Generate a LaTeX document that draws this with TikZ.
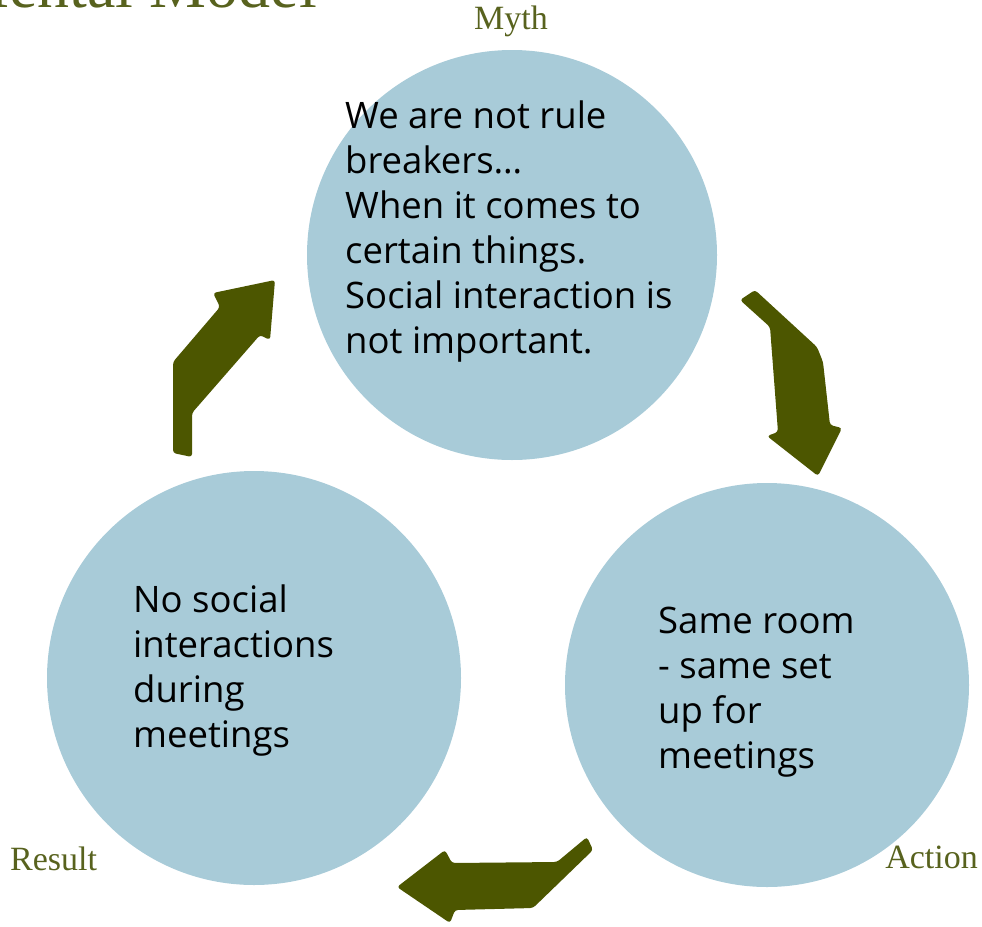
\documentclass[tikz,border=0pt]{standalone}
\usepackage{fontspec}
\setmainfont{Open Sans}
\newfontfamily\seriflabel{Liberation Serif}
\usetikzlibrary{positioning}
\definecolor{mythBlue}{RGB}{168,203,216}
\definecolor{cycleOlive}{RGB}{76,86,0}
\definecolor{labelOlive}{RGB}{88,98,30}

\begin{document}
\begin{tikzpicture}[x=1pt, y=-1pt,
    circ/.style={circle, fill=mythBlue, inner sep=0pt},
    txt/.style={align=left, inner sep=0pt, font=\fontsize{36.5}{45}\selectfont},
    lbl/.style={inner sep=0pt, text=labelOlive, font=\seriflabel\fontsize{34}{38}\selectfont},
    blockarrow/.style={fill=cycleOlive, rounded corners=3pt}]
    \useasboundingbox (0,0) rectangle (982,926);
    \begin{scope}
        \clip (0,0) rectangle (982,926);
        \node[lbl, font=\seriflabel\fontsize{64}{70}\selectfont, anchor=base east] (title) at (317,8) {Mental Model};
    \end{scope}

    \node[circ, minimum size=410pt] (myth) at (512,255) {};
    \node[circ, minimum size=414pt] (result) at (254,678) {};
    \node[circ, minimum size=404pt] (action) at (767,685) {};

    % base anchor of a multi-line node = baseline of its last line
    \node[txt, anchor=base west] (mythtext) at (345,353) {We are not rule\\breakers…\\When it comes to\\certain things.\\Social interaction is\\not important.};
    \node[txt, anchor=base west] (resulttext) at (133,747) {No social\\interactions\\during\\meetings};
    \node[txt, anchor=base west] (actiontext) at (658,768) {Same room\\- same set\\up for\\meetings};

    \node[lbl, anchor=base] (mythlbl) at (511,29) {Myth};
    \node[lbl, anchor=base west] (resultlbl) at (10,870) {Result};
    \node[lbl, anchor=base east] (actionlbl) at (978,868) {Action};

    % myth -> action
    \fill[blockarrow] (740,300) -- (755,290) -- (817,347) -- (823,362) -- (830,425) -- (842,428)
        -- (818,476) -- (767,436) -- (778,432) -- (770,327) -- cycle;
    % action -> result
    \fill[blockarrow] (397,887) -- (445,850) -- (452,863) -- (557,862) -- (587,837) -- (593,850)
        -- (533,908) -- (455,910) -- (450,923) -- cycle;
    % result -> myth
    \fill[blockarrow] (173,453) -- (173,362) -- (220,307) -- (213,293) -- (275,280) -- (270,340)
        -- (260,335) -- (192,413) -- (192,457) -- cycle;
\end{tikzpicture}
\end{document}
